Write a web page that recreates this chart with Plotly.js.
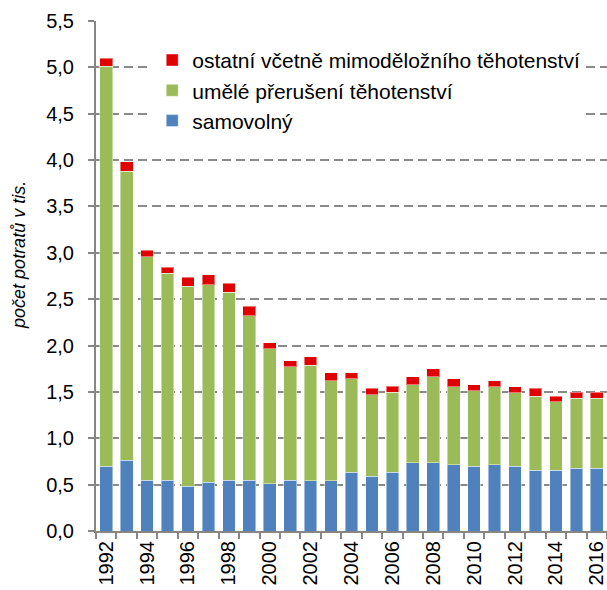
<!DOCTYPE html>
<html>
<head>
<meta charset="utf-8">
<script src="https://cdn.plot.ly/plotly-3.0.1.min.js"></script>
<style>html,body{margin:0;padding:0;background:#fff;}#chart{width:607px;height:590px;}</style>
</head>
<body>
<div id="chart"></div>
<script>
const years = ["1992","1993","1994","1995","1996","1997","1998","1999","2000","2001","2002","2003","2004","2005","2006","2007","2008","2009","2010","2011","2012","2013","2014","2015","2016"];
const tickLabels = ["1992","","1994","","1996","","1998","","2000","","2002","","2004","","2006","","2008","","2010","","2012","","2014","","2016"];
const samovolny = [0.700,0.765,0.548,0.548,0.481,0.526,0.548,0.548,0.507,0.548,0.543,0.543,0.633,0.590,0.633,0.737,0.737,0.716,0.698,0.716,0.698,0.655,0.655,0.676,0.676];
const umele = [4.310,3.115,2.407,2.234,2.157,2.130,2.025,1.774,1.456,1.221,1.245,1.079,1.011,0.881,0.863,0.842,0.928,0.842,0.816,0.842,0.795,0.798,0.737,0.756,0.756];
const ostatni = [0.090,0.100,0.075,0.065,0.101,0.105,0.101,0.100,0.065,0.065,0.090,0.087,0.065,0.069,0.065,0.086,0.083,0.086,0.065,0.064,0.065,0.087,0.061,0.064,0.064];
const seriesNames = ["samovolný","umělé přerušení těhotenství","ostatní včetně mimoděložního těhotenství"];
const seriesColors = ["#4F81BD","#9BBB59","#E00000"];
const yTitle = "počet potratů v tis.";

const allSeries = [samovolny, umele, ostatni];
const traces = allSeries.map((vals, i) => ({
  type: "bar",
  x: years,
  y: vals,
  name: seriesNames[i],
  legendgroup: "g" + i,
  marker: {color: seriesColors[i], line: {color: "rgba(255,255,255,0.45)", width: 1}},
  hoverinfo: "x+y+name"
}));

const font = "Liberation Sans, Arial, sans-serif";
const layout = {
  width: 607,
  height: 590,
  margin: {l: 96, r: 0, t: 21, b: 59, pad: 0},
  barmode: "stack",
  bargap: 0.38,
  separators: ", ",
  paper_bgcolor: "#ffffff",
  plot_bgcolor: "#ffffff",
  font: {family: font, size: 20, color: "#000000"},
  showlegend: true,
  legend: {
    traceorder: "reversed",
    x: 0.11, y: 0.963, xanchor: "left", yanchor: "top",
    bgcolor: "#ffffff", borderwidth: 0,
    font: {family: font, size: 21, color: "#000000"},
    tracegroupgap: 0
  },
  annotations: [{
    text: yTitle, textangle: -90, showarrow: false,
    xref: "paper", yref: "paper", x: -0.151, y: 0.541,
    xanchor: "center", yanchor: "middle",
    font: {family: font, size: 18, color: "#000000", style: "italic"}
  }],
  xaxis: {
    type: "category",
    range: [-0.5, 24.5],
    tickmode: "array",
    tickvals: years,
    ticktext: tickLabels,
    tickson: "boundaries",
    tickangle: -90,
    ticks: "outside",
    ticklen: 6,
    tickwidth: 2,
    tickcolor: "#868686",
    showline: true,
    linecolor: "#868686",
    linewidth: 2,
    showgrid: false,
    zeroline: false,
    automargin: false,
    tickfont: {family: font, size: 20, color: "#000000"}
  },
  yaxis: {
    range: [0, 5.5],
    dtick: 0.5,
    tick0: 0,
    tickformat: ".1f",
    ticks: "outside",
    ticklen: 6,
    tickwidth: 2,
    tickcolor: "#868686",
    ticklabelstandoff: 10,
    showline: true,
    linecolor: "#868686",
    linewidth: 2,
    showgrid: true,
    gridcolor: "#8a8a8a",
    gridwidth: 2,
    griddash: "9px,5px",
    zeroline: false,
    automargin: false,
    tickfont: {family: font, size: 20, color: "#000000"}
  }
};

Plotly.newPlot("chart", traces, layout, {displayModeBar: false, staticPlot: true});
</script>
</body>
</html>
